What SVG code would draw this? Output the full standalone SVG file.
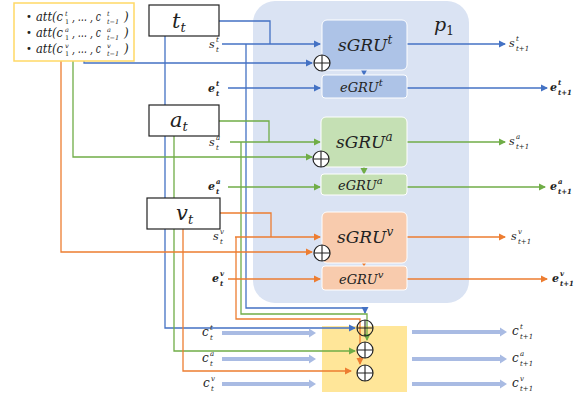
<svg xmlns="http://www.w3.org/2000/svg" width="584" height="396" viewBox="0 0 584 396">
<style>
.m{font-family:"DejaVu Serif","Liberation Serif",serif;font-style:italic;font-weight:normal;fill:#222}
.b{font-weight:bold}
.ln{fill:none;stroke-width:1.3}
.bl{stroke:#4472c4}.gr{stroke:#70ad47}.or{stroke:#ed7d31}
.box{fill:#fff;stroke:#222;stroke-width:1.2}
.cir{fill:#fff;stroke:#222;stroke-width:1.2}
.thick{stroke:#a9bbe3;stroke-width:4;fill:none}
.pl{stroke:#222;stroke-width:1.1}
.s{font-size:6.5px}
</style>
<defs>
<marker id="ab" markerWidth="8" markerHeight="8" refX="6" refY="4" orient="auto" markerUnits="userSpaceOnUse"><path d="M0,0.5 L7,4 L0,7.5 z" fill="#4472c4"/></marker>
<marker id="ag" markerWidth="8" markerHeight="8" refX="6" refY="4" orient="auto" markerUnits="userSpaceOnUse"><path d="M0,0.5 L7,4 L0,7.5 z" fill="#70ad47"/></marker>
<marker id="ao" markerWidth="8" markerHeight="8" refX="6" refY="4" orient="auto" markerUnits="userSpaceOnUse"><path d="M0,0.5 L7,4 L0,7.5 z" fill="#ed7d31"/></marker>
<marker id="at" markerWidth="8" markerHeight="10" refX="4" refY="5" orient="auto" markerUnits="userSpaceOnUse"><path d="M0,0.5 L7,5 L0,9.5 z" fill="#a9bbe3"/></marker>
</defs>

<rect id="panel" x="253" y="1" width="216" height="302" rx="22" fill="#dae3f3"/>
<text class="m" x="434" y="31" font-size="19">p<tspan font-size="12" dy="4" font-style="normal">1</tspan></text>
<rect id="yellow" x="322" y="326" width="85" height="66" fill="#ffe699"/>

<g id="connectors">
<path class="ln bl" d="M219,21 H270 V44"/>
<path class="ln bl" d="M222,44 H320" marker-end="url(#ab)"/>
<path class="ln bl" d="M246,44 V308 H365 V313" marker-end="url(#ab)"/>
<path class="ln bl" d="M84,61 V63 H312" marker-end="url(#ab)"/>
<path class="ln bl" d="M228,88 H320" marker-end="url(#ab)"/>
<path class="ln bl" d="M364,70 V75" marker-end="url(#ab)"/>
<path class="ln bl" d="M407,44 H505" marker-end="url(#ab)"/>
<path class="ln bl" d="M407,88 H547" marker-end="url(#ab)"/>
<path class="ln bl" d="M165,36 V328 H355" marker-end="url(#ab)"/>
<path class="ln gr" d="M219,121 H269 V142"/>
<path class="ln gr" d="M230,142 H320" marker-end="url(#ag)"/>
<path class="ln gr" d="M241,142 V314 H367 V340" marker-end="url(#ag)"/>
<path class="ln gr" d="M73,61 V157 H312" marker-end="url(#ag)"/>
<path class="ln gr" d="M228,187 H320" marker-end="url(#ag)"/>
<path class="ln gr" d="M364,167 V174" marker-end="url(#ag)"/>
<path class="ln gr" d="M407,142 H505" marker-end="url(#ag)"/>
<path class="ln gr" d="M407,187 H545" marker-end="url(#ag)"/>
<path class="ln gr" d="M174,136 V351 H355" marker-end="url(#ag)"/>
<path class="ln or" d="M220,213 H271 V237"/>
<path class="ln or" d="M235,237 H320" marker-end="url(#ao)"/>
<path class="ln or" d="M236,237 V319 H360 V364" marker-end="url(#ao)"/>
<path class="ln or" d="M61,61 V252 H312" marker-end="url(#ao)"/>
<path class="ln or" d="M228,279 H320" marker-end="url(#ao)"/>
<path class="ln or" d="M364,263 V266" marker-end="url(#ao)"/>
<path class="ln or" d="M407,237 H505" marker-end="url(#ao)"/>
<path class="ln or" d="M407,279 H547" marker-end="url(#ao)"/>
<path class="ln or" d="M183,229 V371 H351" marker-end="url(#ao)"/>
<path class="thick" d="M222,333 H313" marker-end="url(#at)"/>
<path class="thick" d="M222,359 H313" marker-end="url(#at)"/>
<path class="thick" d="M222,384 H313" marker-end="url(#at)"/>
<path class="thick" d="M412,332 H504" marker-end="url(#at)"/>
<path class="thick" d="M412,359 H504" marker-end="url(#at)"/>
<path class="thick" d="M412,384 H504" marker-end="url(#at)"/>
</g>

<g id="att">
<rect x="14" y="3" width="120" height="58" fill="#fff" stroke="#ffd966" stroke-width="1.5"/>
<g font-family="DejaVu Sans, sans-serif" fill="#222" font-size="10">
<text x="26" y="20">•</text>
<text x="26" y="36">•</text>
<text x="26" y="52">•</text>
</g>
<g class="m" font-size="12">
<text x="36" y="21" textLength="27" lengthAdjust="spacingAndGlyphs">att(c</text>
<text class="s"><tspan x="65" y="16">t</tspan><tspan x="65" y="24" font-style="normal">1</tspan></text>
<text x="72" y="21" textLength="29" lengthAdjust="spacingAndGlyphs">, … , c</text>
<text class="s"><tspan x="107" y="16">t</tspan><tspan x="107" y="24">t−1</tspan></text>
<text x="124" y="21">)</text>

<text x="36" y="37" textLength="27" lengthAdjust="spacingAndGlyphs">att(c</text>
<text class="s"><tspan x="65" y="32">a</tspan><tspan x="65" y="40" font-style="normal">1</tspan></text>
<text x="72" y="37" textLength="29" lengthAdjust="spacingAndGlyphs">, … , c</text>
<text class="s"><tspan x="107" y="32">a</tspan><tspan x="107" y="40">t−1</tspan></text>
<text x="124" y="37">)</text>

<text x="36" y="53" textLength="27" lengthAdjust="spacingAndGlyphs">att(c</text>
<text class="s"><tspan x="65" y="48">v</tspan><tspan x="65" y="56" font-style="normal">1</tspan></text>
<text x="72" y="53" textLength="29" lengthAdjust="spacingAndGlyphs">, … , c</text>
<text class="s"><tspan x="107" y="48">v</tspan><tspan x="107" y="56">t−1</tspan></text>
<text x="124" y="53">)</text>
</g>
</g>

<g id="tt"><rect class="box" x="149" y="5" width="70" height="31"/><text class="m" x="172" y="28" font-size="21">t<tspan font-size="13" dy="4">t</tspan></text></g>
<g id="at_node"><rect class="box" x="149" y="105" width="70" height="31"/><text class="m" x="170" y="127" font-size="21">a<tspan font-size="13" dy="4">t</tspan></text></g>
<g id="vt"><rect class="box" x="147" y="198" width="73" height="31"/><text class="m" x="176" y="220" font-size="21">v<tspan font-size="13" dy="4">t</tspan></text></g>

<g id="sgru_t"><rect x="322" y="20" width="85" height="50" rx="5" fill="#adc3e7" stroke="#fff" stroke-width="1"/><text class="m" x="338" y="51" font-size="17">sGRU<tspan font-size="12" dy="-7">t</tspan></text></g>
<g id="egru_t"><rect x="322" y="75" width="85" height="23" rx="3" fill="#adc3e7" stroke="#fff" stroke-width="1"/><text class="m" x="340" y="92" font-size="13">eGRU<tspan font-size="10" dy="-6">t</tspan></text></g>
<g id="sgru_a"><rect x="321" y="117" width="86" height="50" rx="5" fill="#c5e0b4" stroke="#fff" stroke-width="1"/><text class="m" x="336" y="148" font-size="17">sGRU<tspan font-size="12" dy="-7">a</tspan></text></g>
<g id="egru_a"><rect x="321" y="174" width="86" height="21" rx="3" fill="#c5e0b4" stroke="#fff" stroke-width="1"/><text class="m" x="338" y="190" font-size="13">eGRU<tspan font-size="10" dy="-6">a</tspan></text></g>
<g id="sgru_v"><rect x="322" y="212" width="85" height="51" rx="5" fill="#f8cbad" stroke="#fff" stroke-width="1"/><text class="m" x="337" y="243" font-size="17">sGRU<tspan font-size="12" dy="-7">v</tspan></text></g>
<g id="egru_v"><rect x="322" y="266" width="85" height="24" rx="3" fill="#f8cbad" stroke="#fff" stroke-width="1"/><text class="m" x="339" y="284" font-size="13">eGRU<tspan font-size="10" dy="-6">v</tspan></text></g>

<g id="plus_t"><circle class="cir" cx="322" cy="63" r="8"/><path class="pl" d="M314,63 H330 M322,55 V71"/></g>
<g id="plus_a"><circle class="cir" cx="321" cy="159" r="8"/><path class="pl" d="M313,159 H329 M321,151 V167"/></g>
<g id="plus_v"><circle class="cir" cx="322" cy="253" r="8"/><path class="pl" d="M314,253 H330 M322,245 V261"/></g>
<g id="plus_c1"><circle class="cir" cx="365" cy="328" r="8" fill-opacity="0"/><path class="pl" d="M357,328 H373 M365,320 V336"/></g>
<g id="plus_c2"><circle class="cir" cx="365" cy="350" r="8"/><path class="pl" d="M357,350 H373 M365,342 V358"/></g>
<g id="plus_c3"><circle class="cir" cx="365" cy="373" r="8"/><path class="pl" d="M357,373 H373 M365,365 V381"/></g>

<g id="labels" class="m">
<text x="209" y="48" font-size="11">s</text><text x="216" y="42" font-size="7">t</text><text x="216" y="52" font-size="7">t</text>
<text x="208" y="92" font-size="11" class="b">e</text><text x="216" y="86" font-size="7" class="b">t</text><text x="216" y="96" font-size="7" class="b">t</text>
<text x="209" y="146" font-size="11">s</text><text x="216" y="140" font-size="7">a</text><text x="216" y="150" font-size="7">t</text>
<text x="208" y="190" font-size="11" class="b">e</text><text x="216" y="184" font-size="7" class="b">a</text><text x="216" y="194" font-size="7" class="b">t</text>
<text x="213" y="240" font-size="11">s</text><text x="220" y="234" font-size="7">v</text><text x="220" y="244" font-size="7">t</text>
<text x="212" y="282" font-size="11" class="b">e</text><text x="220" y="276" font-size="7" class="b">v</text><text x="220" y="286" font-size="7" class="b">t</text>

<text x="509" y="47" font-size="11">s</text><text x="516" y="41" font-size="7">t</text><text x="516" y="51" font-size="7">t+1</text>
<text x="550" y="91" font-size="11" class="b">e</text><text x="558" y="85" font-size="7" class="b">t</text><text x="558" y="95" font-size="7" class="b">t+1</text>
<text x="509" y="145" font-size="11">s</text><text x="516" y="139" font-size="7">a</text><text x="516" y="149" font-size="7">t+1</text>
<text x="550" y="190" font-size="11" class="b">e</text><text x="558" y="184" font-size="7" class="b">a</text><text x="558" y="194" font-size="7" class="b">t+1</text>
<text x="511" y="240" font-size="11">s</text><text x="518" y="234" font-size="7">v</text><text x="518" y="244" font-size="7">t+1</text>
<text x="552" y="282" font-size="11" class="b">e</text><text x="560" y="276" font-size="7" class="b">v</text><text x="560" y="286" font-size="7" class="b">t+1</text>

<text x="202" y="336" font-size="12">c</text><text x="210" y="330" font-size="7">t</text><text x="210" y="340" font-size="7">t</text>
<text x="202" y="362" font-size="12">c</text><text x="210" y="356" font-size="7">a</text><text x="210" y="366" font-size="7">t</text>
<text x="203" y="387" font-size="12">c</text><text x="211" y="381" font-size="7">v</text><text x="211" y="391" font-size="7">t</text>
<text x="512" y="335" font-size="12">c</text><text x="520" y="329" font-size="7">t</text><text x="520" y="339" font-size="7">t+1</text>
<text x="512" y="362" font-size="12">c</text><text x="520" y="356" font-size="7">a</text><text x="520" y="366" font-size="7">t+1</text>
<text x="512" y="387" font-size="12">c</text><text x="520" y="381" font-size="7">v</text><text x="520" y="391" font-size="7">t+1</text>
</g>
</svg>
